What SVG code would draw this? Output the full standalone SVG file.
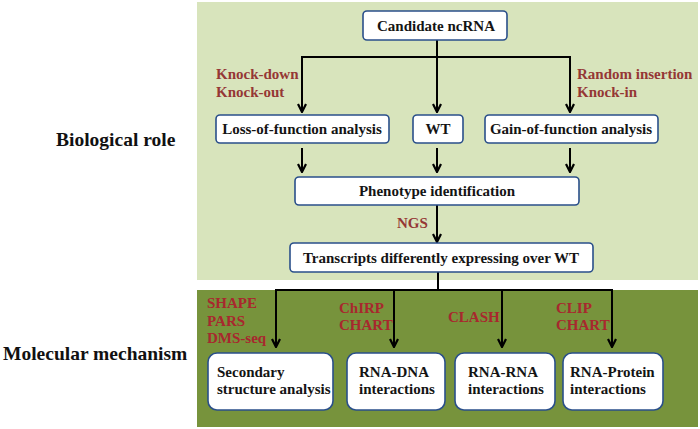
<svg xmlns="http://www.w3.org/2000/svg" width="700" height="429" viewBox="0 0 700 429">
<defs>
<marker id="ah" viewBox="0 0 10 10" refX="9" refY="5" markerWidth="10" markerHeight="10" markerUnits="userSpaceOnUse" orient="auto">
<path d="M1,1 L9,5 L1,9" fill="none" stroke="#000" stroke-width="2.2"/>
</marker>
<style>
.box{fill:#fff;stroke:#2a4f8a;stroke-width:1.6}
.t{font-size:15px;fill:#141414}
.c{text-anchor:middle}
.r{font-size:15px;fill:#953735}
.r2{font-size:15px;fill:#a8282e}
.side{font-size:19.5px;fill:#111}
.ln{fill:none;stroke:#000;stroke-width:2}
</style>
</defs>
<rect width="700" height="429" fill="#fff"/>
<rect x="197" y="2" width="501" height="278" fill="#d8e4bc"/>
<rect x="197" y="290" width="501" height="137" fill="#77933c"/>
<g font-family="Liberation Serif, serif" font-weight="bold">
<text class="side" x="56" y="146">Biological role</text>
<text class="side" x="3" y="360">Molecular mechanism</text>
<g id="connectors">
<path class="ln" d="M437,40 V57"/>
<path class="ln" d="M302,112 V57 H570 V112" marker-end="url(#ah)"/>
<path class="ln" d="M302,57 V112" marker-end="url(#ah)"/>
<path class="ln" d="M437,57 V112" marker-end="url(#ah)"/>
<path class="ln" d="M302,148 V172" marker-end="url(#ah)"/>
<path class="ln" d="M437,148 V172" marker-end="url(#ah)"/>
<path class="ln" d="M570,148 V172" marker-end="url(#ah)"/>
<path class="ln" d="M437,205 V242" marker-end="url(#ah)"/>
<path class="ln" d="M438,272 V290"/>
<path class="ln" d="M276,347 V290 H612 V347" marker-end="url(#ah)"/>
<path class="ln" d="M276,290 V347" marker-end="url(#ah)"/>
<path class="ln" d="M394,290 V347" marker-end="url(#ah)"/>
<path class="ln" d="M502,290 V347" marker-end="url(#ah)"/>
<text class="r" x="216" y="79">Knock-down</text>
<text class="r" x="216" y="97">Knock-out</text>
<text class="r" x="577" y="79">Random insertion</text>
<text class="r" x="577" y="97">Knock-in</text>
<text class="r" x="397" y="228">NGS</text>
<text class="r2" x="207" y="308">SHAPE</text>
<text class="r2" x="207" y="326">PARS</text>
<text class="r2" x="207" y="343">DMS-seq</text>
<text class="r2" x="339" y="313">ChIRP</text>
<text class="r2" x="339" y="330">CHART</text>
<text class="r2" x="448" y="322">CLASH</text>
<text class="r2" x="556" y="313">CLIP</text>
<text class="r2" x="556" y="330">CHART</text>
</g>
<g id="candidate"><rect class="box" x="363" y="11" width="144" height="29" rx="4"/><text class="t c" x="436" y="31">Candidate ncRNA</text></g>
<g id="loss"><rect class="box" x="216" y="115" width="173" height="28" rx="4"/><text class="t c" x="302" y="134">Loss-of-function analysis</text></g>
<g id="wt"><rect class="box" x="413" y="115" width="50" height="28" rx="4"/><text class="t c" x="438" y="134">WT</text></g>
<g id="gain"><rect class="box" x="485" y="115" width="173" height="28" rx="4"/><text class="t c" x="571" y="134">Gain-of-function analysis</text></g>
<g id="phenotype"><rect class="box" x="295" y="177" width="284" height="28" rx="4"/><text class="t c" x="437" y="196">Phenotype identification</text></g>
<g id="transcripts"><rect class="box" x="290" y="243" width="303" height="29" rx="4"/><text class="t c" x="441" y="263">Transcripts differently expressing over WT</text></g>
<g id="secondary"><rect class="box" x="208" y="353" width="125" height="57" rx="9"/><text class="t" x="217" y="377">Secondary</text><text class="t" x="217" y="394">structure analysis</text></g>
<g id="rnadna"><rect class="box" x="347" y="353" width="98" height="57" rx="9"/><text class="t" x="359" y="377">RNA-DNA</text><text class="t" x="359" y="394">interactions</text></g>
<g id="rnarna"><rect class="box" x="455" y="353" width="100" height="57" rx="9"/><text class="t" x="468" y="377">RNA-RNA</text><text class="t" x="468" y="394">interactions</text></g>
<g id="rnaprotein"><rect class="box" x="563" y="353" width="100" height="57" rx="9"/><text class="t" x="570" y="377">RNA-Protein</text><text class="t" x="570" y="394">interactions</text></g>
</g>
</svg>
